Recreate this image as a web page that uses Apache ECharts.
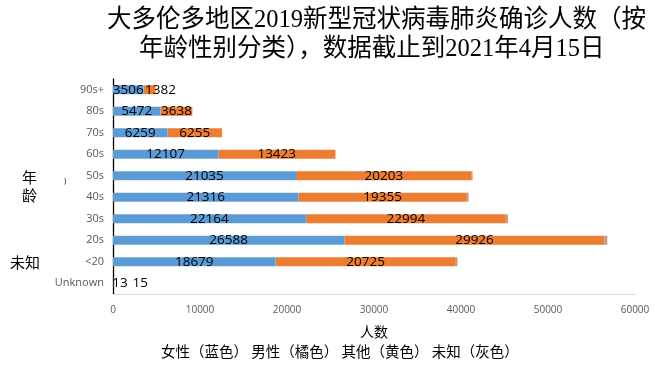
<!DOCTYPE html>
<html><head><meta charset="utf-8">
<script src="https://cdn.jsdelivr.net/npm/echarts@6/dist/echarts.min.js"></script>
<style>html,body{margin:0;padding:0;background:#fff}#c{width:655px;height:366px}</style>
</head><body><div id="c"></div>
<script>
const categories = ['Unknown', '<20', '20s', '30s', '40s', '50s', '60s', '70s', '80s', '90s+'];
const female = [13, 18679, 26588, 22164, 21316, 21035, 12107, 6259, 5472, 3506];
const male = [15, 20725, 29926, 22994, 19355, 20203, 13423, 6255, 3638, 1382];
const other = [0, 2, 3, 2, 2, 1, 1, 0, 0, 0];
const unknownSex = [0, 190, 300, 230, 200, 100, 60, 30, 20, 10];
const xTicks = [0, 10000, 20000, 30000, 40000, 50000, 60000];
const titleLines = ['大多伦多地区2019新型冠状病毒肺炎确诊人数（按', '年龄性别分类），数据截止到2021年4月15日'];
const legendText = '女性（蓝色） 男性（橘色） 其他（黄色） 未知（灰色）';

const chart = echarts.init(document.getElementById('c'));
const TF = "'Liberation Serif','Noto Sans CJK SC',serif";
const CJK = "'Noto Sans CJK SC',sans-serif";
const lblFont = "'Open Sans',sans-serif";

function labelled(arr, offsets) {
  return arr.map((v, i) => offsets[i] ? { value: v, label: { offset: offsets[i] } } : v);
}

chart.setOption({
  animation: false,
  grid: { left: 113, right: 20, top: 79, bottom: 72 },
  xAxis: {
    type: 'value', min: xTicks[0], max: xTicks[xTicks.length - 1], interval: xTicks[1] - xTicks[0],
    axisLine: { show: true, lineStyle: { color: '#d9d9d9', width: 1 } },
    axisTick: { show: false },
    splitLine: { show: false },
    axisLabel: { color: '#595959', fontSize: 10, fontFamily: lblFont, margin: 11, formatter: v => String(v) },
    name: '人数', nameLocation: 'middle', nameGap: 31,
    nameTextStyle: { color: '#000', fontSize: 14, fontFamily: CJK }
  },
  yAxis: {
    type: 'category', data: categories,
    axisLine: { show: true, lineStyle: { color: '#000', width: 1.3 } },
    axisTick: { show: false },
    axisLabel: { color: '#595959', fontSize: 11, fontFamily: lblFont, margin: 9 }
  },
  series: [
    { name: '女性', type: 'bar', stack: 's', barWidth: 9, itemStyle: { color: '#5B9BD5' },
      data: labelled(female, { 0: [7, 0] }),
      label: { show: true, position: 'inside', color: '#000', fontSize: 13.5, fontFamily: lblFont } },
    { name: '男性', type: 'bar', stack: 's', barWidth: 9, itemStyle: { color: '#ED7D31' },
      data: labelled(male, { 0: [27, 0], 9: [11, 0] }),
      label: { show: true, position: 'inside', color: '#000', fontSize: 13.5, fontFamily: lblFont } },
    { name: '其他', type: 'bar', stack: 's', barWidth: 9, itemStyle: { color: '#FFC000' }, data: other },
    { name: '未知', type: 'bar', stack: 's', barWidth: 9, itemStyle: { color: '#A5A5A5' }, data: unknownSex }
  ],
  graphic: [
    { type: 'text', left: 107, top: 8, style: { text: titleLines[0], font: "24.5px " + TF, fill: '#000' } },
    { type: 'text', left: 139, top: 37, style: { text: titleLines[1], font: "24.5px " + TF, fill: '#000' } },
    { type: 'text', left: 161, top: 344, style: { text: legendText, font: "14.5px " + CJK, fill: '#000' } },
    { type: 'text', left: 22, top: 168, style: { text: '年\n龄', font: "15px " + CJK, fill: '#000', lineHeight: 18 } },
    { type: 'text', left: 64, top: 177, style: { text: ')', font: "8px " + lblFont, fill: '#000' } },
    { type: 'text', left: 10, top: 255, style: { text: '未知', font: "15px " + CJK, fill: '#000' } }
  ]
});
</script></body></html>
